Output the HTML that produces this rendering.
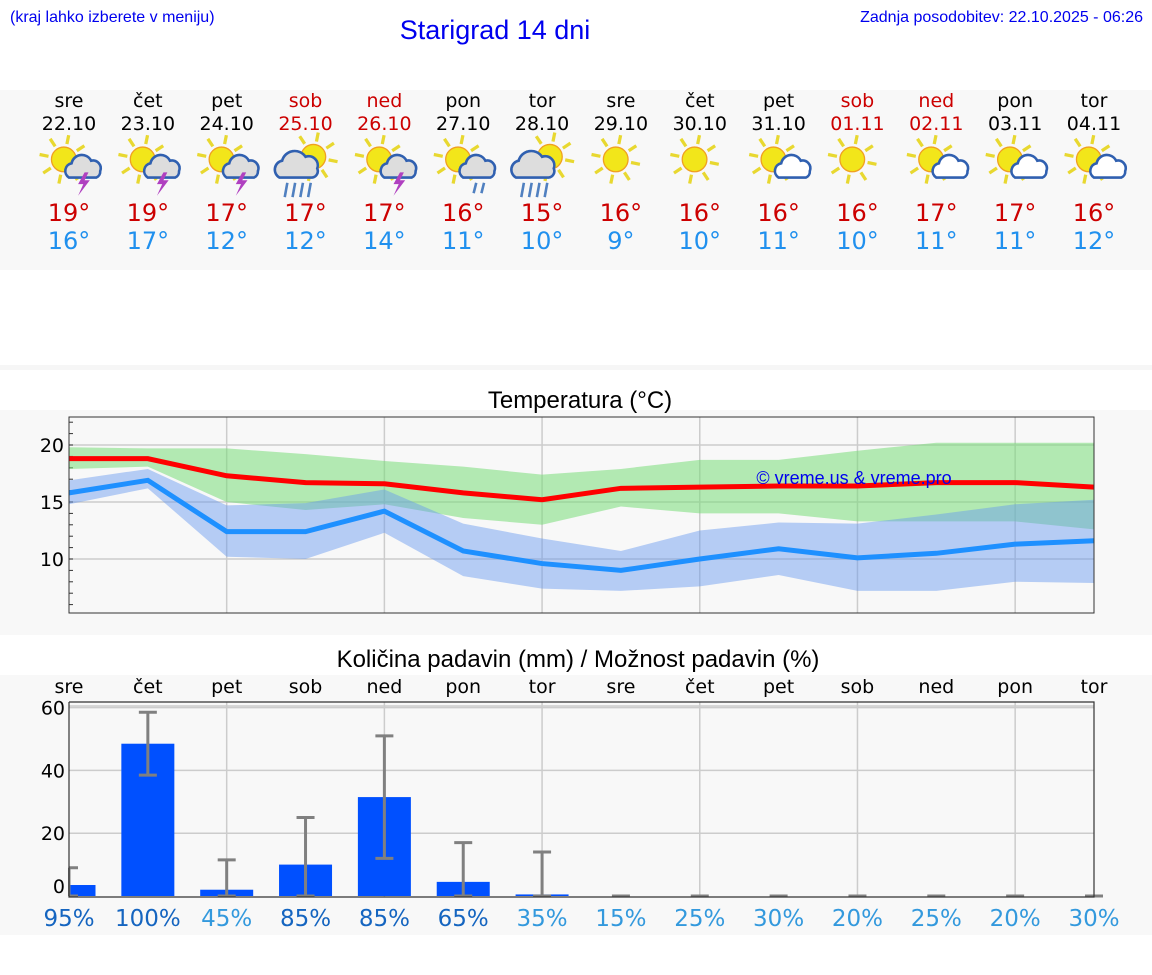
<!DOCTYPE html>
<html><head><meta charset="utf-8"><style>
body{margin:0;background:#fff;width:1152px;height:975px;overflow:hidden}
svg{display:block}
text{font-family:"DejaVu Sans","Liberation Sans",sans-serif}
</style></head><body>
<svg id="s" width="1152" height="975" xmlns="http://www.w3.org/2000/svg">
<rect x="0" y="90" width="1152" height="180" fill="#f8f8f8"/>
<rect x="0" y="365" width="1152" height="5" fill="#f6f6f6"/>
<rect x="0" y="410" width="1152" height="225" fill="#f8f8f8"/>
<rect x="0" y="675" width="1152" height="260" fill="#f8f8f8"/>
<text x="10" y="22" font-size="16" fill="#0000ee" style="font-family:'Liberation Sans',sans-serif">(kraj lahko izberete v meniju)</text>
<text x="495" y="39" font-size="27" fill="#0000ee" text-anchor="middle" style="font-family:'Liberation Sans',sans-serif">Starigrad 14 dni</text>
<text x="1143" y="22" font-size="16" fill="#0000ee" text-anchor="end" style="font-family:'Liberation Sans',sans-serif">Zadnja posodobitev: 22.10.2025 - 06:26</text>
<text x="580" y="408" font-size="24" fill="#000" text-anchor="middle" style="font-family:'Liberation Sans',sans-serif">Temperatura (°C)</text>
<text x="578" y="667" font-size="24" fill="#000" text-anchor="middle" style="font-family:'Liberation Sans',sans-serif">Količina padavin (mm) / Možnost padavin (%)</text>
<g id="g"></g>
</svg>
<script>
const days=["sre","čet","pet","sob","ned","pon","tor","sre","čet","pet","sob","ned","pon","tor"];
const dates=["22.10","23.10","24.10","25.10","26.10","27.10","28.10","29.10","30.10","31.10","01.11","02.11","03.11","04.11"];
const weekend=[0,0,0,1,1,0,0,0,0,0,1,1,0,0];
const icons=["ts","ts","ts","rain","ts","shower","rain","sun","sun","cloud","sun","cloud","cloud","cloud"];
const hiTemps=[19,19,17,17,17,16,15,16,16,16,16,17,17,16];
const loTemps=[16,17,12,12,14,11,10,9,10,11,10,11,11,12];
const tMax=[18.8,18.8,17.3,16.7,16.6,15.8,15.2,16.2,16.3,16.4,16.4,16.7,16.7,16.3];
const tMin=[15.8,16.9,12.4,12.4,14.2,10.7,9.6,9.0,10.0,10.9,10.1,10.5,11.3,11.6];
const maxBandHi=[19.8,19.7,19.7,19.2,18.6,18.1,17.4,17.9,18.7,18.7,19.5,20.2,20.2,20.2];
const maxBandLo=[17.9,18.1,15.0,14.3,14.8,13.6,13.0,14.6,14.0,14.0,13.3,13.3,13.3,12.6];
const minBandHi=[16.9,17.9,14.7,14.9,16.1,13.1,11.8,10.7,12.5,13.2,13.1,13.9,14.8,15.2];
const minBandLo=[14.8,16.2,10.2,10.0,12.3,8.5,7.4,7.2,7.6,8.6,7.2,7.2,8.0,7.9];
const tTicks=[10,15,20];
const precip=[3.5,48.5,2,10,31.5,4.5,0.5,0,0,0,0,0,0,0];
const errLo=[0,38.5,0,0,12,0,0,0,0,0,0,0,0,0];
const errHi=[9,58.5,11.5,25,51,17,14,0,0,0,0,0,0,0];
const chance=[95,100,45,85,85,65,35,15,25,30,20,25,20,30];
const pTicks=[0,20,40,60];

const NS="http://www.w3.org/2000/svg",G=document.getElementById('g');
function mk(t,a,txt){const e=document.createElementNS(NS,t);for(const k in a)e.setAttribute(k,a[k]);if(txt!==undefined)e.textContent=txt;G.appendChild(e);return e;}
const X0=69,X1=1094,N=14;
const xs=i=>X0+i*(X1-X0)/(N-1);
const ty=v=>445+(20-v)*11.4;
const py=v=>896-v*3.14;

days.forEach((d,i)=>{
 const c=weekend[i]?"#cc0000":"#000";
 let e=mk('text',{x:xs(i),y:107,'font-size':19,fill:c,'text-anchor':'middle'},d);
 
 e=mk('text',{x:xs(i),y:130,'font-size':19,fill:c,'text-anchor':'middle'},dates[i]);
 
 e=mk('text',{x:xs(i),y:221,'font-size':24,fill:'#cc0000','text-anchor':'middle'},hiTemps[i]+"°");
 
 e=mk('text',{x:xs(i),y:249,'font-size':24,fill:'#2090ee','text-anchor':'middle'},loTemps[i]+"°");
 
 const cx=xs(i),cy=162,ic=icons[i];
 const g=document.createElementNS(NS,'g');G.appendChild(g);
 
 g.setAttribute('transform',`translate(${cx} ${cy}) scale(1.3) translate(${-cx} ${-cy})`);
 const sx=ic==="rain"?cx+6:cx-4, sy=ic==="rain"?cy-4:cy-2;
 let rays="";for(let k=0;k<8;k++){const a=k*Math.PI/4+0.2;rays+=`<line x1="${sx+Math.cos(a)*12}" y1="${sy+Math.sin(a)*12}" x2="${sx+Math.cos(a)*19}" y2="${sy+Math.sin(a)*19}" stroke="#e8d830" stroke-width="2.5"/>`;}
 let h=rays+`<circle cx="${sx}" cy="${sy}" r="9.5" fill="#f2e61a" stroke="#f0a020" stroke-width="1"/>`;
 if(ic==="ts"||ic==="cloud"||ic==="shower"){const ox=cx+12,oy=cy+6;
  h+=`<path d="M${ox-12} ${oy+6} a6 6 0 0 1 2 -11 a8 8 0 0 1 15 -2 a6 6 0 0 1 7 8 a5 5 0 0 1 -3 5 z" fill="${ic==='cloud'?'#fff':'#ddd'}" stroke="#3060b0" stroke-width="2"/>`;
  if(ic==="ts")h+=`<path d="M${ox} ${oy+2} l-5 9 h4 l-4 9 l9 -12 h-4 l3 -6z" fill="#b040c0"/>`;
  if(ic==="shower")h+=`<line x1="${ox-2}" y1="${oy+10}" x2="${ox-4}" y2="${oy+18}" stroke="#5080c0" stroke-width="2"/><line x1="${ox+4}" y1="${oy+10}" x2="${ox+2}" y2="${oy+18}" stroke="#5080c0" stroke-width="2"/>`;}
 if(ic==="rain"){const ox=cx-5,oy=cy+5;
  h+=`<path d="M${ox-15} ${oy+7} a7 7 0 0 1 2 -13 a10 10 0 0 1 18 -3 a7 7 0 0 1 9 9 a5 5 0 0 1 -4 7 z" fill="#ddd" stroke="#3060b0" stroke-width="2"/>`;
  for(let k=0;k<4;k++)h+=`<line x1="${ox-9+k*6}" y1="${oy+11}" x2="${ox-11+k*6}" y2="${oy+22}" stroke="#5080c0" stroke-width="2"/>`;}
 g.innerHTML=h;
});

mk('rect',{x:X0,y:417,width:X1-X0,height:196,fill:'#f8f8f8'});
tTicks.forEach(v=>{let e=mk('line',{x1:X0,x2:X1,y1:ty(v),y2:ty(v),stroke:'#ccc','stroke-width':1.5});
 e=mk('text',{x:X0-5,y:ty(v)+7,'font-size':19,'text-anchor':'end',fill:'#000'},v);
 });
for(let v=6;v<=22;v++)mk('line',{x1:X0,x2:X0+4,y1:ty(v),y2:ty(v),stroke:'#333','stroke-width':1});
for(let i=2;i<N-1;i+=2)mk('line',{x1:xs(i),x2:xs(i),y1:417,y2:613,stroke:'#ccc','stroke-width':1.5});
function band(hi,lo,fill,name){let p=hi.map((v,i)=>xs(i)+","+ty(v)).join(" ")+" "+lo.map((v,i)=>xs(i)+","+ty(v)).reverse().join(" ");
 const e=mk('polygon',{points:p,fill:fill});}
band(maxBandHi,maxBandLo,'rgba(120,220,120,0.55)','max-temp-range');
band(minBandHi,minBandLo,'rgba(100,150,240,0.45)','min-temp-range');
function line(a,c,name){const e=mk('polyline',{points:a.map((v,i)=>xs(i)+","+ty(v)).join(" "),fill:'none',stroke:c,'stroke-width':5});
 }
line(tMin,'#1e90ff','min-temp-line');
line(tMax,'#ff0000','max-temp-line');
let w=mk('text',{x:854,y:484,'font-size':18,fill:'#0000ee','text-anchor':'middle',style:"font-family:'Liberation Sans',sans-serif"},"© vreme.us & vreme.pro");

mk('rect',{x:X0,y:417,width:X1-X0,height:196,fill:'none',stroke:'#333','stroke-width':1});

days.forEach((d,i)=>{const e=mk('text',{x:xs(i),y:693,'font-size':19,'text-anchor':'middle',fill:'#000'},d);
 });
pTicks.forEach(v=>{if(v>0)mk('line',{x1:X0,x2:X1,y1:py(v),y2:py(v),stroke:'#ccc','stroke-width':1.5});});
mk('line',{x1:X0,x2:X1,y1:706,y2:706,stroke:'#ccc','stroke-width':1.5});
for(let i=2;i<N-1;i+=2)mk('line',{x1:xs(i),x2:xs(i),y1:702,y2:897,stroke:'#ccc','stroke-width':1.5});
precip.forEach((v,i)=>{
 const l=Math.max(X0,xs(i)-26.5),r=xs(i)+26.5;
 let e=mk('rect',{x:l,y:py(v),width:r-l,height:py(0)-py(v),fill:'#0050ff'});
 
 e=mk('path',{d:`M${xs(i)} ${py(errLo[i])} V${py(errHi[i])} M${Math.max(X0,xs(i)-9)} ${py(errHi[i])} H${xs(i)+9} M${Math.max(X0,xs(i)-9)} ${py(errLo[i])} H${xs(i)+9}`,stroke:'#808080','stroke-width':3,fill:'none'});
 
 e=mk('text',{x:xs(i),y:926,'font-size':23,'text-anchor':'middle',fill:chance[i]>=50?'#1565c0':'#3399dd'},chance[i]+"%");
 
});
mk('rect',{x:0,y:700,width:X0-1,height:200,fill:'#f8f8f8'});
pTicks.forEach(v=>{const e=mk('text',{x:X0-4,y:py(v)+(v?7:-3),'font-size':19,'text-anchor':'end',fill:'#000'},v);
 });
mk('path',{d:`M${X0} 702 V897 H${X1} V702 H${X0}`,fill:'none',stroke:'#333','stroke-width':1.2});
</script>
</body></html>
